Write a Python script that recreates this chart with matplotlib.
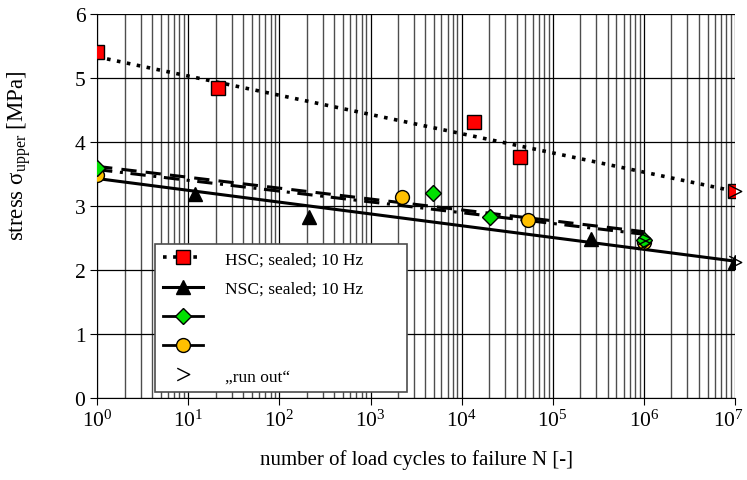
import matplotlib
matplotlib.use("Agg")
import matplotlib.pyplot as plt
import numpy as np
from matplotlib.path import Path
from matplotlib.ticker import LogLocator, FuncFormatter, NullFormatter

plt.rcParams['font.family'] = ['Liberation Serif', 'DejaVu Serif']
plt.rcParams['mathtext.fontset'] = 'custom'
plt.rcParams['mathtext.rm'] = 'Liberation Serif'
plt.rcParams['mathtext.it'] = 'Liberation Serif:italic'

# test data
hsc_n = [1, 21, 13500, 44000, 1e7]
hsc_s = [5.40, 4.84, 4.31, 3.77, 3.23]
nsc_n = [12, 213, 2.6e5, 1e7]
nsc_s = [3.19, 2.83, 2.48, 2.12]
grn_n = [1, 4800, 20500, 1e6]
grn_s = [3.60, 3.20, 2.83, 2.47]
yel_n = [1, 2230, 54000, 1e6]
yel_s = [3.48, 3.14, 2.78, 2.44]

# regression lines (end points)
hsc_fit_n = [1, 1e7]
hsc_fit_s = [5.33, 3.23]
nsc_fit_n = [1, 1e7]
nsc_fit_s = [3.43, 2.14]
grn_fit_n = [1, 1e6]
grn_fit_s = [3.62, 2.60]
yel_fit_n = [1, 1e6]
yel_fit_s = [3.57, 2.56]

# run outs
ro_n = [1e7, 1e7, 1e6, 1e6]
ro_s = [3.23, 2.12, 2.50, 2.42]

chevron = Path([(-1, 1), (1, 0), (-1, -1)], [Path.MOVETO, Path.LINETO, Path.LINETO])
XMAX = 1e7


def dec_fmt(v, pos):
    if v >= XMAX:
        return ''  # drawn separately, nudged inside the figure
    return r'$10^{%d}$' % int(round(np.log10(v)))


fig = plt.figure(figsize=(7.47, 4.81), dpi=100)
ax = fig.add_axes([0.130, 0.170, 0.854, 0.799])

ax.set_xscale('log')
ax.set_xlim(1, XMAX)
ax.set_ylim(0, 6)

ax.xaxis.set_major_locator(LogLocator(base=10, numticks=10))
ax.xaxis.set_minor_locator(LogLocator(base=10, subs=np.arange(2, 10), numticks=100))
ax.xaxis.set_major_formatter(FuncFormatter(dec_fmt))
ax.xaxis.set_minor_formatter(NullFormatter())
ax.set_yticks(range(0, 7))

ax.grid(True, which='major', color='black', lw=0.9)
ax.grid(True, which='minor', axis='x', color='0.3', lw=1.0)
ax.set_axisbelow(True)
for s in ['top', 'right']:
    ax.spines[s].set_visible(False)
ax.tick_params(which='major', direction='out', length=5, labelsize=15.5)
ax.tick_params(which='minor', length=0)

ax.annotate(r'$10^{%d}$' % int(np.log10(XMAX)), xy=(XMAX, 0), xycoords=('data', 'axes fraction'),
            xytext=(-5, -8.5), textcoords='offset points', ha='center', va='top', fontsize=15.5)

dots = (0, (1, 1.8))

# fit lines
ax.plot(hsc_fit_n, hsc_fit_s, color='black', lw=2.6, ls=dots, dash_capstyle='butt', zorder=3)
ax.plot(nsc_fit_n, nsc_fit_s, color='black', lw=2.2, zorder=3)
ax.plot(grn_fit_n, grn_fit_s, color='black', lw=2.2, ls=(0, (5, 3)), zorder=3)
ax.plot(yel_fit_n, yel_fit_s, color='black', lw=2.2, ls=(0, (5, 2.5, 1, 2.5)), zorder=3)

# points
ax.plot(hsc_n, hsc_s, ls='none', marker='s', ms=10, mfc='red', mec='black', mew=1, zorder=5)
ax.plot(nsc_n, nsc_s, ls='none', marker='^', ms=10, mfc='black', mec='black', zorder=5)
ax.plot(grn_n, grn_s, ls='none', marker='D', ms=8, mfc='#00e000', mec='black', mew=1, zorder=6)
ax.plot(yel_n, yel_s, ls='none', marker='o', ms=10, mfc='#ffc000', mec='black', mew=1, zorder=5)
ax.plot(ro_n, ro_s, ls='none', marker=chevron, ms=9, mfc='none', mec='black', mew=1, clip_on=False, zorder=6)

# legend
h1, = ax.plot([], [], color='black', lw=2.6, ls=dots, dash_capstyle='butt', marker='s', ms=10, mfc='red', mec='black')
h2, = ax.plot([], [], color='black', lw=2.2, marker='^', ms=10, mfc='black', mec='black')
h3, = ax.plot([], [], color='black', lw=2.0, marker='D', ms=8, mfc='#00e000', mec='black')
h4, = ax.plot([], [], color='black', lw=2.0, marker='o', ms=10, mfc='#ffc000', mec='black')
h5, = ax.plot([], [], ls='none', marker=chevron, ms=9, mfc='none', mec='black')
leg = ax.legend([h1, h2, h3, h4, h5],
                ['HSC; sealed; 10 Hz', 'NSC; sealed; 10 Hz', ' ', ' ', '„run out“'],
                loc='lower left', bbox_to_anchor=(0.091, 0.016, 0.395, 0.393), mode='expand',
                borderaxespad=0, fontsize=12.5, handlelength=2.3, handletextpad=1.3,
                labelspacing=0.75, borderpad=0.45, fancybox=False, framealpha=1, edgecolor='0.3')
leg.get_frame().set_linewidth(1.2)
leg.set_zorder(10)

ax.set_xlabel('number of load cycles to failure N [-]', fontsize=15, labelpad=13)
ax.set_ylabel(r'stress σ$_{\mathrm{upper}}$ [MPa]', fontsize=16.5)
ax.yaxis.set_label_coords(-0.100, 0.633)

fig.savefig('out.png', dpi=100)
